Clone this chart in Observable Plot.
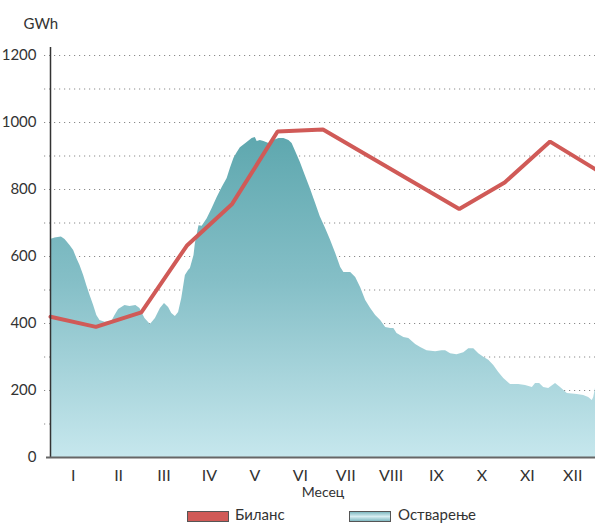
<!DOCTYPE html>
<html><head><meta charset="utf-8">
<script src="https://cdn.jsdelivr.net/npm/d3@7"></script>
<script src="https://cdn.jsdelivr.net/npm/@observablehq/plot@0.6"></script>
<style>
body{margin:0;background:#fff;font-family:Lato,"DejaVu Sans",sans-serif;color:#333;}
#wrap{position:relative;width:595px;height:524px;overflow:hidden;}
#wrap svg{display:block;}
.sw{position:absolute;top:511px;width:40px;height:9px;border:1px solid #555;}
.lt{position:absolute;top:506px;font-size:15px;line-height:17px;color:#333;}
</style></head><body><div id="wrap"></div>
<script>
// Month labels (x axis)
const monthLabels = ["I","II","III","IV","V","VI","VII","VIII","IX","X","XI","XII"];
// y ticks
const gridValues = [0,100,200,300,400,500,600,700,800,900,1000,1100,1200];
const labeledTicks = [0,200,400,600,800,1000,1200];
// Биланс: monthly values at month boundaries (0..12)
const bilansM = [0,1,2,3,4,5,6,7,8,9,10,11,12];
const bilansV = [420,390,433,632,757,973,979,900,821,742,821,943,860];
// Остварење: daily-profile samples (position in months, GWh)
const ostvM = [0,0.10,0.24,0.32,0.43,0.51,0.58,0.65,0.73,0.80,0.87,0.95,1.02,1.09,1.20,1.35,1.42,1.50,1.64,1.75,1.88,1.97,2.08,2.20,2.31,2.42,2.51,2.60,2.67,2.75,2.82,2.89,2.97,3.04,3.08,3.16,3.19,3.27,3.34,3.45,3.56,3.67,3.78,3.89,3.96,4.04,4.11,4.18,4.33,4.44,4.51,4.55,4.62,4.70,4.81,4.92,5.03,5.14,5.25,5.32,5.39,5.50,5.61,5.72,5.83,5.94,6.05,6.16,6.28,6.39,6.46,6.61,6.72,6.83,6.94,7.05,7.16,7.27,7.38,7.49,7.56,7.63,7.78,7.89,8.04,8.15,8.29,8.48,8.62,8.70,8.81,8.95,9.10,9.21,9.32,9.43,9.54,9.65,9.76,9.87,9.98,10.13,10.31,10.46,10.61,10.68,10.77,10.86,10.97,11.12,11.23,11.38,11.60,11.74,11.85,11.93,11.96,12];
const ostvV = [651,655,658,651,633,618,594,573,543,513,484,454,424,409,404,406,424,442,454,451,454,445,415,397,415,445,460,448,430,421,433,475,543,558,564,603,639,692,690,713,743,776,806,833,863,893,910,925,940,952,955,943,946,943,937,946,952,952,946,937,916,881,842,803,761,719,686,651,609,567,552,552,537,507,469,445,424,409,388,385,385,370,358,355,337,328,319,316,319,319,310,307,313,325,325,310,299,290,275,254,236,218,218,215,209,221,221,209,206,221,209,191,188,185,179,170,179,206];
const legendNames = ["Биланс","Остварење"];

const bilans = bilansM.map((m,i)=>({m, v:bilansV[i]}));
const ostv = ostvM.map((m,i)=>({m, v:ostvV[i]}));
const monthCenters = monthLabels.map((_,i)=>i+0.5);

const plot = Plot.plot({
  width:595, height:505,
  marginLeft:50, marginRight:0, marginTop:55, marginBottom:48,
  style:{fontFamily:"Lato, 'DejaVu Sans', sans-serif", fontSize:"14px", color:"#333", background:"white", overflow:"visible"},
  x:{domain:[0,12], axis:null},
  y:{domain:[0,1200], axis:null},
  marks:[
    Plot.ruleY(gridValues.filter(d=>d>0), {stroke:"#8a8a8a", strokeWidth:1, strokeDasharray:"1.2,3.8", insetLeft:-6}),
    Plot.areaY(ostv, {x:"m", y:"v", fill:"url(#ostvGrad)"}),
    Plot.lineY(bilans, {x:"m", y:"v", stroke:"#d05a57", strokeWidth:4, strokeLinejoin:"miter"}),
    Plot.ruleX([0], {stroke:"#333", strokeWidth:1.5, insetTop:-8}),
    Plot.ruleY([0], {stroke:"#666", strokeWidth:2, insetLeft:-4}),
    Plot.axisY({ticks:labeledTicks, tickSize:0, tickPadding:14, label:null, fontSize:15, tickFormat:d=>String(d)}),
    Plot.axisX({ticks:monthCenters, tickSize:0, tickPadding:12, label:null, fontSize:16, tickFormat:d=>monthLabels[Math.floor(d)]}),
    Plot.text(["Месец"], {frameAnchor:"bottom", dy:39, fontSize:14, fill:"#333"}),
    Plot.text(["GWh"], {frameAnchor:"top-left", dx:-27, dy:-37, fontSize:15, fill:"#333"})
  ]
});

const y = plot.scale("y");
const svg = d3.select(plot);
const grad = svg.insert("defs", ":first-child").append("linearGradient")
  .attr("id","ostvGrad").attr("gradientUnits","userSpaceOnUse")
  .attr("x1",0).attr("x2",0).attr("y1",y.apply(950)).attr("y2",y.apply(0));
grad.append("stop").attr("offset","0%").attr("stop-color","#5fa8af");
grad.append("stop").attr("offset","45%").attr("stop-color","#85bfc7");
grad.append("stop").attr("offset","100%").attr("stop-color","#c6e7ed");

const wrap = document.getElementById("wrap");
wrap.appendChild(plot);

const sw1 = document.createElement("div"); sw1.className="sw"; sw1.style.left="187px"; sw1.style.background="#d05a57";
const t1 = document.createElement("div"); t1.className="lt"; t1.style.left="235px"; t1.textContent=legendNames[0];
const sw2 = document.createElement("div"); sw2.className="sw"; sw2.style.left="349px";
sw2.style.background="linear-gradient(#7fb9c1, #d8eef2 50%, #7fb9c1)";
const t2 = document.createElement("div"); t2.className="lt"; t2.style.left="398px"; t2.textContent=legendNames[1];
[sw1,t1,sw2,t2].forEach(e=>wrap.appendChild(e));
</script></body></html>
